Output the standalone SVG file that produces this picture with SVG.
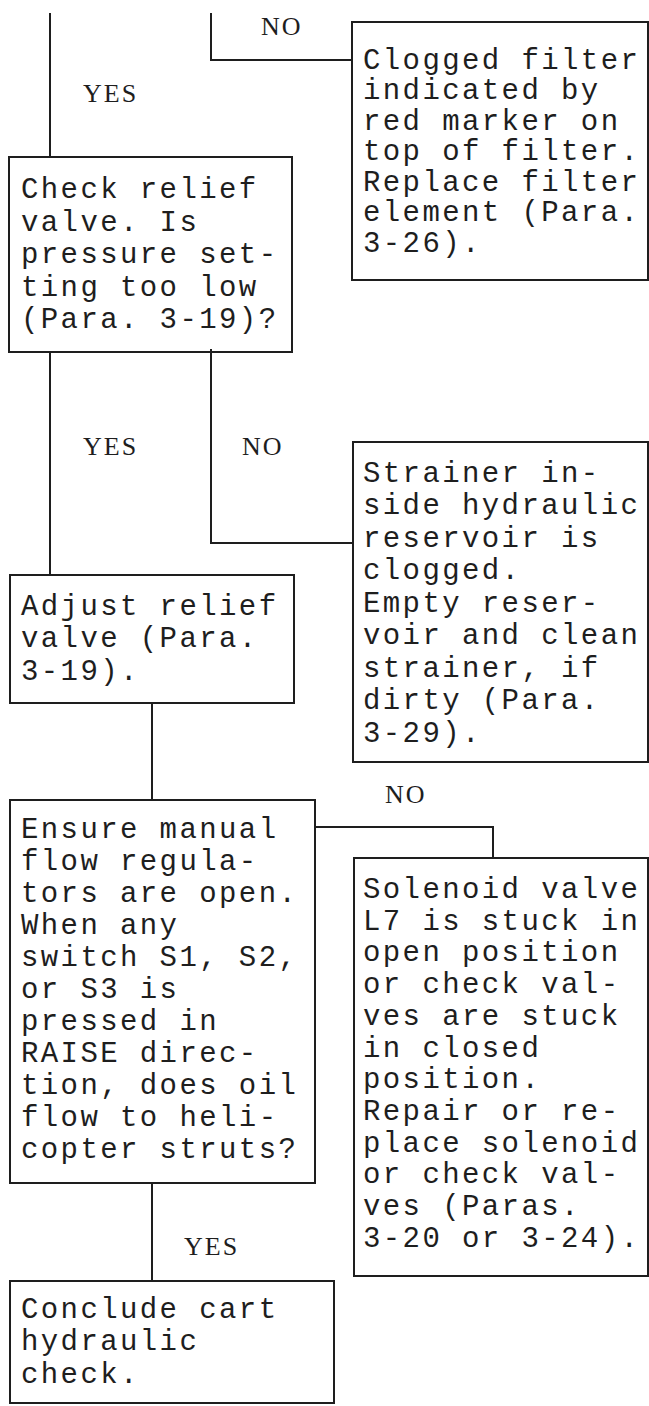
<svg xmlns="http://www.w3.org/2000/svg" width="649" height="1406" viewBox="0 0 649 1406">
<style>
.bg{fill:#ffffff}
.box{fill:none;stroke:#1e1e1e;stroke-width:2}
.ln{fill:none;stroke:#1e1e1e;stroke-width:2}
.t{font-family:"Liberation Mono","Courier New",monospace;font-size:29px;letter-spacing:2.4px;fill:#1e1e1e}
.lb{font-family:"Liberation Serif","Times New Roman",serif;font-size:26px;letter-spacing:2px;fill:#1e1e1e}
</style>
<rect class="bg" x="0" y="0" width="649" height="1406"/>
<g id="connectors">
<path class="ln" d="M50,13 V157"/>
<path class="ln" d="M211,13 V60 H352"/>
<path class="ln" d="M50,352 V575"/>
<path class="ln" d="M211,349 V543 H353"/>
<path class="ln" d="M152,703 V800"/>
<path class="ln" d="M315,827 H493 V858"/>
<path class="ln" d="M152,1183 V1281"/>
<text class="lb" x="261" y="35">NO</text>
<text class="lb" x="83" y="102">YES</text>
<text class="lb" x="83" y="455">YES</text>
<text class="lb" x="242" y="455">NO</text>
<text class="lb" x="385" y="803">NO</text>
<text class="lb" x="184" y="1255">YES</text>
</g>
<g id="filter">
<rect class="box" x="352" y="22" width="296" height="258"/>
<text class="t" x="363" y="69">Clogged filter</text>
<text class="t" x="363" y="99">indicated by</text>
<text class="t" x="363" y="130">red marker on</text>
<text class="t" x="363" y="160">top of filter.</text>
<text class="t" x="363" y="191">Replace filter</text>
<text class="t" x="363" y="221">element (Para.</text>
<text class="t" x="363" y="252">3-26).</text>
</g>
<g id="relief">
<rect class="box" x="9" y="157" width="283" height="195"/>
<text class="t" x="21" y="198">Check relief</text>
<text class="t" x="21" y="231">valve.  Is</text>
<text class="t" x="21" y="263">pressure set-</text>
<text class="t" x="21" y="296">ting too low</text>
<text class="t" x="21" y="328">(Para. 3-19)?</text>
</g>
<g id="strainer">
<rect class="box" x="353" y="442" width="295" height="320"/>
<text class="t" x="363" y="482">Strainer in-</text>
<text class="t" x="363" y="514">side hydraulic</text>
<text class="t" x="363" y="547">reservoir is</text>
<text class="t" x="363" y="579">clogged.</text>
<text class="t" x="363" y="612">Empty reser-</text>
<text class="t" x="363" y="644">voir and clean</text>
<text class="t" x="363" y="677">strainer, if</text>
<text class="t" x="363" y="709">dirty (Para.</text>
<text class="t" x="363" y="742">3-29).</text>
</g>
<g id="adjust">
<rect class="box" x="10" y="575" width="284" height="128"/>
<text class="t" x="21" y="615">Adjust relief</text>
<text class="t" x="21" y="647">valve (Para.</text>
<text class="t" x="21" y="680">3-19).</text>
</g>
<g id="ensure">
<rect class="box" x="10" y="800" width="305" height="383"/>
<text class="t" x="21" y="838">Ensure manual</text>
<text class="t" x="21" y="870">flow regula-</text>
<text class="t" x="21" y="902">tors are open.</text>
<text class="t" x="21" y="934">When any</text>
<text class="t" x="21" y="966">switch S1, S2,</text>
<text class="t" x="21" y="998">or S3 is</text>
<text class="t" x="21" y="1030">pressed in</text>
<text class="t" x="21" y="1062">RAISE direc-</text>
<text class="t" x="21" y="1094">tion, does oil</text>
<text class="t" x="21" y="1126">flow to heli-</text>
<text class="t" x="21" y="1158">copter struts?</text>
</g>
<g id="solenoid">
<rect class="box" x="354" y="858" width="294" height="418"/>
<text class="t" x="363" y="898">Solenoid valve</text>
<text class="t" x="363" y="930">L7 is stuck in</text>
<text class="t" x="363" y="961">open position</text>
<text class="t" x="363" y="993">or check val-</text>
<text class="t" x="363" y="1025">ves are stuck</text>
<text class="t" x="363" y="1057">in closed</text>
<text class="t" x="363" y="1088">position.</text>
<text class="t" x="363" y="1120">Repair or re-</text>
<text class="t" x="363" y="1152">place solenoid</text>
<text class="t" x="363" y="1183">or check val-</text>
<text class="t" x="363" y="1215">ves (Paras.</text>
<text class="t" x="363" y="1247">3-20 or 3-24).</text>
</g>
<g id="conclude">
<rect class="box" x="10" y="1281" width="324" height="122"/>
<text class="t" x="21" y="1318">Conclude cart</text>
<text class="t" x="21" y="1350">hydraulic</text>
<text class="t" x="21" y="1383">check.</text>
</g>
</svg>
